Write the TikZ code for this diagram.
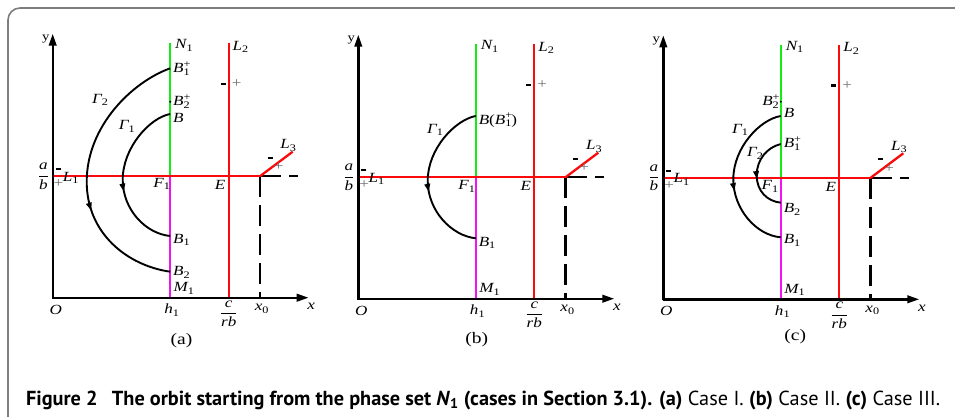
\documentclass[tikz,border=0pt]{standalone}
\usepackage{fontspec}
\setmainfont{Liberation Serif}[FakeStretch=1.22]
\newfontfamily\capfont{PT Sans}
\usetikzlibrary{arrows.meta,decorations.markings}
\definecolor{grn}{RGB}{20,235,20}
\definecolor{mag}{RGB}{240,20,240}
\definecolor{rd}{RGB}{250,10,10}
\definecolor{framegray}{RGB}{125,125,125}
\definecolor{plusgray}{RGB}{110,110,110}
\newcommand\lsub[1]{\raisebox{-0.4ex}{\fontsize{10}{11}\selectfont\upshape #1}}
\newcommand\lsup[1]{\raisebox{0.85ex}{\fontsize{10}{11}\selectfont\upshape #1}}
\newcommand\lsupsub[2]{\rlap{\lsup{#1}}\lsub{#2}}
\newcommand\vfr[2]{$\displaystyle\frac{\mbox{\itshape #1}}{\mbox{\itshape #2}}$}
\newcommand\mns{\rule{5pt}{2.3pt}}
\newcommand\pls{\textcolor{plusgray}{\fontsize{14}{15}\selectfont +}}
\newcommand\panel[1]{%
  \coordinate (#1o) at (0,0);
  \coordinate (#1ytip) at (0,-264);
  \coordinate (#1ybot) at (0,1.1);
  \coordinate (#1xtip) at (256,0);
  \coordinate (#1ntop) at (117.5,-254.5);
  \coordinate (#1f) at (117.5,-121.5);
  \coordinate (#1nbot) at (117.5,0);
  \coordinate (#1lone) at (0,-121.5);
  \coordinate (#1j) at (207.3,-121.5);
  \coordinate (#1ltwot) at (176,-254.5);
  \coordinate (#1ltwob) at (176,0);
  \coordinate (#1lthree) at (240,-146);
  \coordinate (#1de) at (245.5,-121.5);
  \coordinate (#1jb) at (207.3,0);
  \draw[dsh] (#1j) -- (#1de);
  \draw[dsh] (#1j) -- (#1jb);
  \draw[ln,grn] (#1ntop) -- (#1f);
  \draw[ln,mag] (#1f) -- (#1nbot);
  \draw[ln,rd] (#1ltwot) -- (#1ltwob);
  \draw[ln,rd] (#1lone) -- (#1j);
  \draw[ln,rd] (#1j) -- (#1lthree);
  \draw[axis] (#1ybot) -- (#1ytip);
  \draw[axis] (#1o) -- (#1xtip);
  \node (#1ylab) at (-7,-258.5) {\upshape\fontsize{12}{13}\selectfont y};
  \node (#1xlab) at (258.5,9) {\itshape x};
  \node (#1olab) at (3,12) {\itshape O};
  \node (#1hlab) at (119,12.5) {\itshape h\lsub{1}};
  \node (#1crb) at (176,16) {\vfr{c}{rb}};
  \node (#1xzero) at (209,11) {\itshape x\lsub{0}};
  \node[anchor=base west] (#1nlab) at (122.5,-249) {\itshape N\lsub{1}};
  \node[anchor=base west] (#1mlab) at (121,-6) {\itshape M\lsub{1}};
  \node[anchor=base west] (#1ltwolab) at (180,-247.5) {\itshape L\lsub{2}};
  \node (#1mnsa) at (170.6,-213.7) {\mns};
  \node (#1plsa) at (184,-213.7) {\pls};
  \node (#1lthreelab) at (235.5,-152.5) {\itshape L\lsub{3}};
  \node (#1mnsb) at (217.3,-140) {\mns};
  \node (#1plsb) at (226,-131) {\pls};
  \node (#1ab) at (-9.4,-121.5) {\vfr{a}{b}};
  \node (#1mnsc) at (5.6,-128.4) {\mns};
  \node (#1plsc) at (5.8,-113.7) {\pls};
  \node (#1lonelab) at (18,-119.7) {\itshape L\lsub{1}};
  \node (#1elab) at (167.5,-112.7) {\itshape E};
}
\begin{document}
\begin{tikzpicture}[x=1pt,y=-1pt,
  every node/.style={inner sep=0pt,outer sep=0pt,font=\fontsize{14}{16}\selectfont},
  axis/.style={line width=2.4pt,-{Triangle[length=12pt,width=7.5pt]}},
  ln/.style={line width=2.3pt},
  dsh/.style={line width=2.4pt,dash pattern=on 21pt off 8pt},
  orbit/.style={line width=1.9pt},
  orbitarrow/.style={postaction={decorate,decoration={markings,mark=at position #1 with {\arrow{Triangle[length=8pt,width=5.5pt]}}}}}
]
\useasboundingbox (0,0) rectangle (955,417);
\coordinate (fa) at (8,417);
\coordinate (fb) at (8,8);
\coordinate (fc) at (956,8);
\draw[framegray,line width=1.6pt,rounded corners=12pt] (fa) -- (fb) -- (fc);

% ---------- panel (a)
\begin{scope}[shift={(52.7,297.7)}]
  \panel{a}
  \coordinate (aStwo) at (117.5,-229.4);
  \coordinate (aLtwo) at (34,-116);
  \coordinate (aEtwo) at (117.5,-26);
  \coordinate (aSone) at (117.5,-183.7);
  \coordinate (aLone) at (70,-118);
  \coordinate (aEone) at (117.5,-61.7);
  \draw[orbit,orbitarrow=0.63] (aStwo) .. controls (80,-216) and (34,-172) .. (aLtwo) .. controls (34,-64) and (75,-32) .. (aEtwo);
  \draw[orbit,orbitarrow=0.59] (aSone) .. controls (97,-180) and (70,-150) .. (aLone) .. controls (70,-88) and (93,-64) .. (aEone);
  \fill (117.5,-196) circle[radius=1.1];
  \node[anchor=base west] (aBonep) at (120.5,-225.1) {\itshape B\lsupsub{+}{1}};
  \node[anchor=base west] (aBtwop) at (120.5,-191.7) {\itshape B\lsupsub{+}{2}};
  \node[anchor=base west] (aB) at (120.5,-175.1) {\itshape B};
  \node[anchor=base west] (aBone) at (120.5,-54.4) {\itshape B\lsub{1}};
  \node[anchor=base west] (aBtwo) at (120.5,-22.2) {\itshape B\lsub{2}};
  \node (aGone) at (74,-171) {\itshape Γ\lsub{1}};
  \node (aGtwo) at (47.3,-197.7) {\itshape Γ\lsub{2}};
  \node (aF) at (109,-113.7) {\itshape F\lsub{1}};
\end{scope}
\node[font=\fontsize{16}{18}\selectfont] (acap) at (181.5,341) {(a)};

% ---------- panel (b)
\begin{scope}[shift={(358.3,298.7)}]
  \panel{b}
  \coordinate (bSone) at (117.5,-182.7);
  \coordinate (bLone) at (69.4,-118);
  \coordinate (bEone) at (117.5,-60.4);
  \draw[orbit,orbitarrow=0.58] (bSone) .. controls (97,-179) and (69.4,-150) .. (bLone) .. controls (69.4,-88) and (93,-63) .. (bEone);
  \node[anchor=base west] (bB) at (120.5,-174.4) {\itshape B\upshape(\itshape B\lsupsub{+}{1}\upshape)};
  \node[anchor=base west] (bBone) at (120.5,-52.7) {\itshape B\lsub{1}};
  \node (bGone) at (76.7,-168.7) {\itshape Γ\lsub{1}};
  \node (bF) at (108.4,-112) {\itshape F\lsub{1}};
\end{scope}
\node[font=\fontsize{16}{18}\selectfont] (bcap) at (476.7,340) {(b)};

% ---------- panel (c)
\begin{scope}[shift={(663.3,299.3)}]
  \panel{c}
  \coordinate (cSone) at (117.5,-183.3);
  \coordinate (cLone) at (70,-120);
  \coordinate (cEone) at (117.5,-62);
  \coordinate (cStwo) at (117.5,-155.3);
  \coordinate (cLtwo) at (93.4,-124);
  \coordinate (cEtwo) at (117.5,-96.6);
  \draw[orbit,orbitarrow=0.58] (cSone) .. controls (97,-180) and (70,-152) .. (cLone) .. controls (70,-90) and (93,-64) .. (cEone);
  \draw[orbit,orbitarrow=0.56] (cStwo) .. controls (104,-152) and (93.4,-140) .. (cLtwo) .. controls (93.4,-108) and (104,-98) .. (cEtwo);
  \fill (117.5,-197.6) circle[radius=1.1];
  \node[anchor=base east] (cBtwop) at (115.5,-193.3) {\itshape B\lsupsub{+}{2}};
  \node[anchor=base west] (cB) at (120.5,-181.7) {\itshape B};
  \node[anchor=base west] (cBonep) at (120.5,-151.7) {\itshape B\lsupsub{+}{1}};
  \node[anchor=base west] (cBtwo) at (120.5,-86.7) {\itshape B\lsub{2}};
  \node[anchor=base west] (cBone) at (120.5,-55.7) {\itshape B\lsub{1}};
  \node (cGone) at (76.7,-169.3) {\itshape Γ\lsub{1}};
  \node (cGtwo) at (91.7,-146) {\itshape Γ\lsub{2}};
  \node (cF) at (106.7,-112.6) {\itshape F\lsub{1}};
\end{scope}
\node[font=\fontsize{16}{18}\selectfont] (ccap) at (795.3,336.7) {(c)};

% ---------- caption
\node[anchor=base west,font=\capfont\fontsize{20.3}{24}\selectfont] (caption) at (26,405)
 {\textbf{Figure 2\hspace{0.45em} The orbit starting from the phase set \textit{N}\textsubscript{1} (cases in Section 3.1). (a)} Case I. \textbf{(b)} Case II. \textbf{(c)} Case III.};
\end{tikzpicture}
\end{document}
